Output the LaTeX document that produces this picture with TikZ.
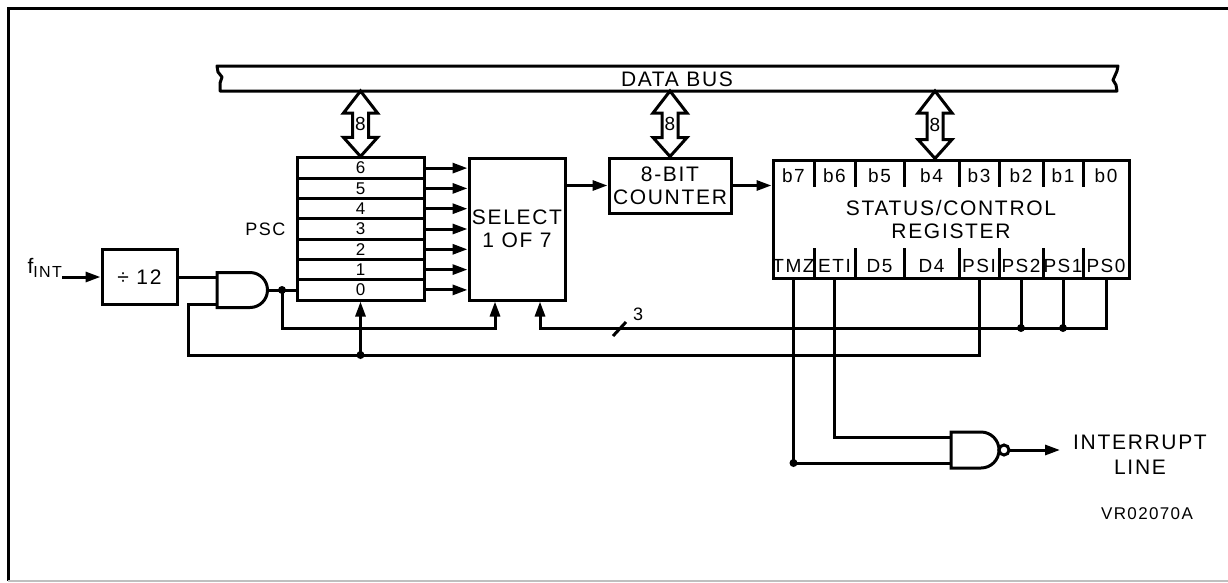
\documentclass[tikz,border=0pt]{standalone}
\usepackage{fontspec}
\setmainfont{Liberation Sans}[LetterSpace=8]
\usetikzlibrary{arrows.meta,calc,positioning}
\tikzset{>={Triangle[length=15pt,width=10pt]}}
\tikzset{
  wire/.style={line width=3pt},
  sig/.style={wire,->},
  box/.style={draw,line width=3pt,inner sep=0pt,align=center,font=\fontsize{21}{23}\selectfont},
  pscrow/.style={draw,line width=3pt,minimum width=127pt,minimum height=20.3pt,inner sep=0pt,font=\fontsize{17}{17}\selectfont},
  bitlbl/.style={inner sep=0pt,font=\fontsize{19}{19}\selectfont},
  dot/.style={circle,fill,inner sep=0pt,minimum size=8pt},
  busarrow/.style={draw,fill=white,line width=3pt,line join=miter,
    to path={let \p1=(\tikztostart),\p2=(\tikztotarget) in
      -- (\x1-17pt,\y1-22pt) -- (\x1-8pt,\y1-22pt) -- (\x1-8pt,\y2+19pt)
      -- (\x1-17pt,\y2+19pt) -- (\x1,\y2) -- (\x1+17pt,\y2+19pt) -- (\x1+8pt,\y2+19pt)
      -- (\x1+8pt,\y1-22pt) -- (\x1+17pt,\y1-22pt) -- cycle}}
}
\begin{document}
\begin{tikzpicture}[x=1pt,y=-1pt]
\useasboundingbox (0,0) rectangle (1228,582);
% frame
\draw[line width=3pt] (1228,8) -- (8,8) -- (8,581);
\draw[gray!50,line width=1.2pt] (8,581) -- (1228,581);

% data bus
\draw[line width=3pt,line join=round] (217,66) -- (1118,66) -- (1117,71) -- (1113,80) -- (1116,85) -- (1117,91)
  -- (220,91) -- (220,83) -- (222,77) -- (218,72) -- cycle;
\node[font=\fontsize{21}{21}\selectfont,inner sep=0pt] (busl) at (677,79) {DATA BUS};
\coordinate (bus1) at (360.5,91);
\coordinate (bus2) at (670,91);
\coordinate (bus3) at (935,91);

% prescaler and selector
\foreach \i in {0,...,6}
  \node[pscrow] (r\i) at (360.5,{289.9-20.3*\i}) {\i};
\node[left=10pt of r3.west,inner sep=0pt,font=\fontsize{18}{18}\selectfont] (psc) {PSC};
\node[box,minimum width=96pt,minimum height=142pt] (sel) at (517,229) {SELECT\\1 OF 7};
\foreach \i in {0,...,6}
  \draw[sig] (r\i.east) -- (r\i.east -| sel.west);
\node[box,minimum width=122pt,minimum height=55pt] (cnt) at (670,185.5) {8-BIT\\COUNTER};
\draw[sig] (sel.east |- cnt.west) -- (cnt.west);

% status/control register
\node[box,minimum width=356pt,minimum height=118pt] (scr) at (951,219) {STATUS/CONTROL\\REGISTER};
\draw[sig] (cnt.east) -- (cnt.east -| scr.west);
\foreach \x in {814,855,904,959,999,1043,1083} {
  \draw[wire] (\x,160) -- (\x,187);
  \draw[wire] (\x,248) -- (\x,278);
}
\foreach \xc/\hi/\lo/\nm in {793.5/b7/TMZ/tmz,834.5/b6/ETI/eti,879.5/b5/D5/d5,931.5/b4/D4/d4,
    979/b3/PSI/psi,1021/b2/PS2/ps2,1063/b1/PS1/ps1,1106/b0/PS0/ps0} {
  \node[bitlbl] (b\nm) at (\xc,176) {\hi};
  \node[bitlbl] (\nm) at (\xc,266) {\lo};
}

% bus transfers
\draw[busarrow] (bus1) to (r6.north);
\draw[busarrow] (bus2) to (cnt.north);
\draw[busarrow] (bus3) to (bus3 |- scr.north);
\node[font=\fontsize{19}{19}\selectfont,inner sep=0pt] (w1) at ($(bus1)!0.5!(r6.north)$) {8};
\node[font=\fontsize{19}{19}\selectfont,inner sep=0pt] (w2) at ($(bus2)!0.5!(cnt.north)$) {8};
\node[font=\fontsize{19}{19}\selectfont,inner sep=0pt] (w3) at ($(bus3)!0.5!(bus3 |- scr.north)$) {8};

% clock input
\node[box,minimum width=75pt,minimum height=55pt,font=\fontsize{21}{21}\selectfont] (div) at (139.5,277) {÷ 12};
\node[anchor=base east,inner sep=0pt,font=\fontsize{21}{21}\selectfont] (fint) at (62,273)
  {f\raisebox{-4pt}{\fontsize{16}{16}\selectfont INT}};
\draw[sig] (fint.base east |- div.west) -- (div.west);

% and gate
\draw[wire] (217,272.5) -- (250,272.5) arc[start angle=-90,end angle=90,radius=17.5] -- (217,307.5) -- cycle;
\coordinate (ag1) at (217,277);
\coordinate (ag2) at (217,304);
\coordinate (agout) at (267.5,290);
\draw[wire] (div.east |- ag1) -- (ag1);
\draw[wire] (agout) -- (agout -| r0.west);

% control lines
\coordinate (lvA) at (0,328);
\coordinate (lvB) at (0,355);
\coordinate (selA) at ([xshift=-22pt]sel.south);
\coordinate (selB) at ([xshift=23pt]sel.south);
\coordinate (fbk) at (188,355);
\coordinate (jand) at (282,290);
\coordinate (jpsi) at (r0.south |- lvB);
\draw[sig] (jand) |- (selA |- lvA) -- (selA);
\draw[sig] (ps0 |- scr.south) |- (selB |- lvA) -- (selB);
\draw[wire] (ps2 |- scr.south) -- (ps2 |- lvA);
\draw[wire] (ps1 |- scr.south) -- (ps1 |- lvA);
\draw[wire] (613,336) -- (626,322);
\node[font=\fontsize{18}{18}\selectfont,inner sep=0pt] (nb) at (638,314) {3};
\draw[wire] (psi |- scr.south) |- (fbk) |- (ag2);
\draw[sig] (jpsi) -- (r0.south);
\node[dot] (dand) at (jand) {};
\node[dot] (dpsi) at (jpsi) {};
\node[dot] (dps2) at (ps2 |- lvA) {};
\node[dot] (dps1) at (ps1 |- lvA) {};

% nand gate
\draw[wire] (951,432) -- (981,432) arc[start angle=-90,end angle=90,radius=18] -- (951,468) -- cycle;
\draw[wire] (1004,450) circle[radius=5];
\coordinate (nd1) at (951,437);
\coordinate (nd2) at (951,463);
\coordinate (ndout) at (1009,450);
\draw[wire] (eti |- scr.south) |- (nd1);
\draw[wire] (tmz |- scr.south) |- (nd2);
\node[dot] (dtmz) at (tmz |- nd2) {};
\node[anchor=west,align=center,inner xsep=13pt,inner ysep=0pt,font=\fontsize{21}{25}\selectfont] (intr) at (1060,455) {INTERRUPT\\LINE};
\draw[sig] (ndout) -- (ndout -| intr.west);
\node[font=\fontsize{17}{17}\selectfont,inner sep=0pt] (ref) at (1147,514) {VR02070A};
\end{tikzpicture}
\end{document}
